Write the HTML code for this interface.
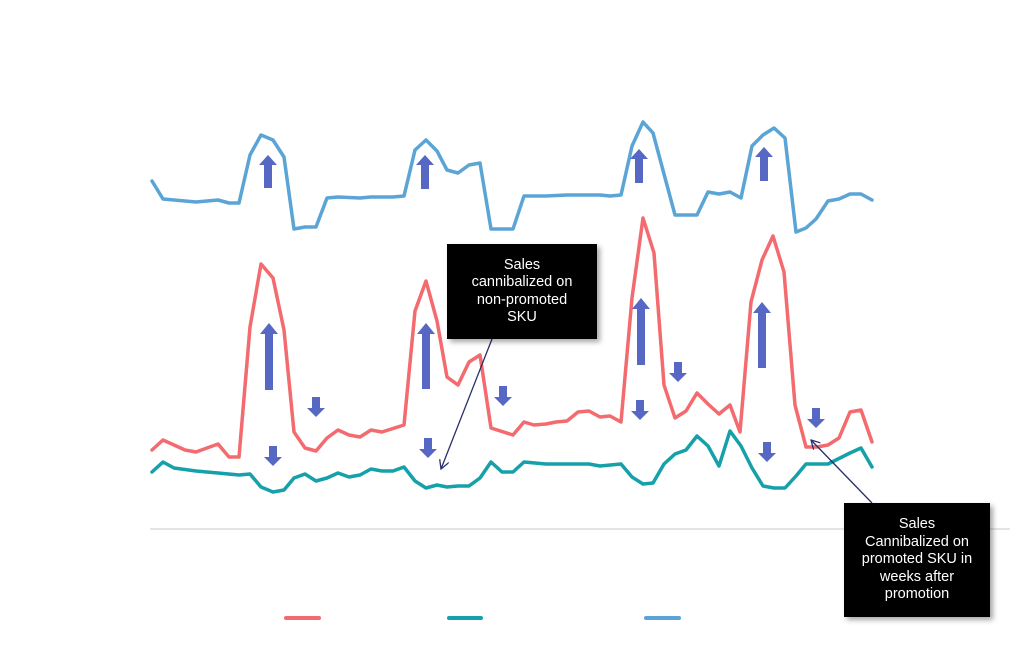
<!DOCTYPE html>
<html><head><meta charset="utf-8"><style>
html,body{margin:0;padding:0;background:#fff;}
.box{position:absolute;background:#000;color:#fff;font-family:"Liberation Sans",sans-serif;font-size:14.5px;line-height:17.5px;text-align:center;box-shadow:3px 3px 5px rgba(0,0,0,.35);display:flex;align-items:center;justify-content:center;}
</style></head><body>
<div style="position:relative;width:1024px;height:645px;overflow:hidden">
<svg width="1024" height="645" style="position:absolute;left:0;top:0">
<defs>
<marker id="ah" markerWidth="10" markerHeight="10" refX="9" refY="5" orient="auto" markerUnits="userSpaceOnUse"><path d="M0,0 L9,5 L0,10" fill="none" stroke="#2b2f6b" stroke-width="1.3"/></marker>
</defs>
<line x1="150" y1="529" x2="1010" y2="529" stroke="#dcdcdc" stroke-width="1.5"/>
<g fill="none" stroke-width="3.5" stroke-linejoin="round" stroke-linecap="round">
<polyline stroke="#5aa5d6" points="152,181 163,199 196,202 218,200 229,203 239,203 250,155 261,135 273,140 284,157 294,229 305,227 316,227 327,198 338,197 360,198 371,197 393,197 404,196 415,150 426,140 437,151 447,170 458,173 469,165 480,163 491,229 513,229 524,196 546,196 567,195 589,195 600,195 610,196 621,195 632,146 643,122 653,133 675,215 697,215 708,192 719,194 730,192 741,198 752,146 763,135 774,128 785,138 796,232 806,228 816,219 828,201 839,199 850,194 861,194 872,200"/>
<polyline stroke="#f36b6e" points="152,450 163,440 174,445 185,450 196,452 218,444 229,457 239,457 250,327 261,264 273,278 284,330 294,432 305,448 316,451 327,438 338,430 349,435 360,437 371,430 382,432 404,425 415,311 426,281 437,321 447,377 458,385 469,362 480,355 491,428 513,435 524,422 534,425 546,424 556,422 567,421 578,412 589,411 600,417 610,416 621,422 632,298 643,218 654,253 664,385 675,418 686,411 697,393 708,404 719,414 730,405 740,432 751,302 762,260 773,236 784,272 795,405 806,447 817,447 828,445 839,438 850,412 861,410 872,442"/>
<polyline stroke="#16a0aa" points="152,472 163,462 174,468 196,471 218,473 239,475 250,474 261,487 273,492 284,490 294,478 305,474 316,481 327,478 338,473 349,477 360,475 371,469 382,471 393,471 404,467 415,481 426,488 437,485 447,487 458,486 469,486 480,478 491,462 502,472 513,472 524,462 546,464 567,464 589,464 600,466 621,464 632,477 643,484 653,483 664,464 675,454 686,450 697,436 708,446 719,466 730,431 741,446 752,468 763,486 774,488 785,488 796,476 806,464 828,464 850,453 861,448 872,467"/>
</g>
<g fill="#5668c3">
<path d="M268,155 l-9,10 h5 v23 h8 v-23 h5 z"/>
<path d="M425,155 l-9,10 h5 v24 h8 v-24 h5 z"/>
<path d="M639,149 l-9,10 h5 v24 h8 v-24 h5 z"/>
<path d="M764,147 l-9,10 h5 v24 h8 v-24 h5 z"/>
<path d="M269,323 l-9,11 h5 v56 h8 v-56 h5 z"/>
<path d="M426,323 l-9,11 h5 v55 h8 v-55 h5 z"/>
<path d="M641,298 l-9,11 h5 v56 h8 v-56 h5 z"/>
<path d="M762,302 l-9,11 h5 v55 h8 v-55 h5 z"/>
<path d="M316,417 l-9,-9 h5 v-11 h8 v11 h5 z"/>
<path d="M273,466 l-9,-9 h5 v-11 h8 v11 h5 z"/>
<path d="M503,406 l-9,-9 h5 v-11 h8 v11 h5 z"/>
<path d="M428,458 l-9,-9 h5 v-11 h8 v11 h5 z"/>
<path d="M678,382 l-9,-9 h5 v-11 h8 v11 h5 z"/>
<path d="M640,420 l-9,-9 h5 v-11 h8 v11 h5 z"/>
<path d="M767,462 l-9,-9 h5 v-11 h8 v11 h5 z"/>
<path d="M816,428 l-9,-9 h5 v-11 h8 v11 h5 z"/>
</g>
<line x1="492" y1="339" x2="441" y2="469" stroke="#2b2f6b" stroke-width="1.3" marker-end="url(#ah)"/>
<line x1="872" y1="503" x2="811" y2="440" stroke="#2b2f6b" stroke-width="1.3" marker-end="url(#ah)"/>
<g stroke-width="4" stroke-linecap="round">
<line x1="286" y1="618" x2="319" y2="618" stroke="#f36b6e"/>
<line x1="449" y1="618" x2="481" y2="618" stroke="#16a0aa"/>
<line x1="646" y1="618" x2="679" y2="618" stroke="#5aa5d6"/>
</g>
</svg>
<div class="box" style="left:447px;top:244px;width:150px;height:95px">Sales<br>cannibalized on<br>non-promoted<br>SKU</div>
<div class="box" style="left:844px;top:503px;width:146px;height:114px">Sales<br>Cannibalized on<br>promoted SKU in<br>weeks after<br>promotion</div>
</div>
</body></html>
